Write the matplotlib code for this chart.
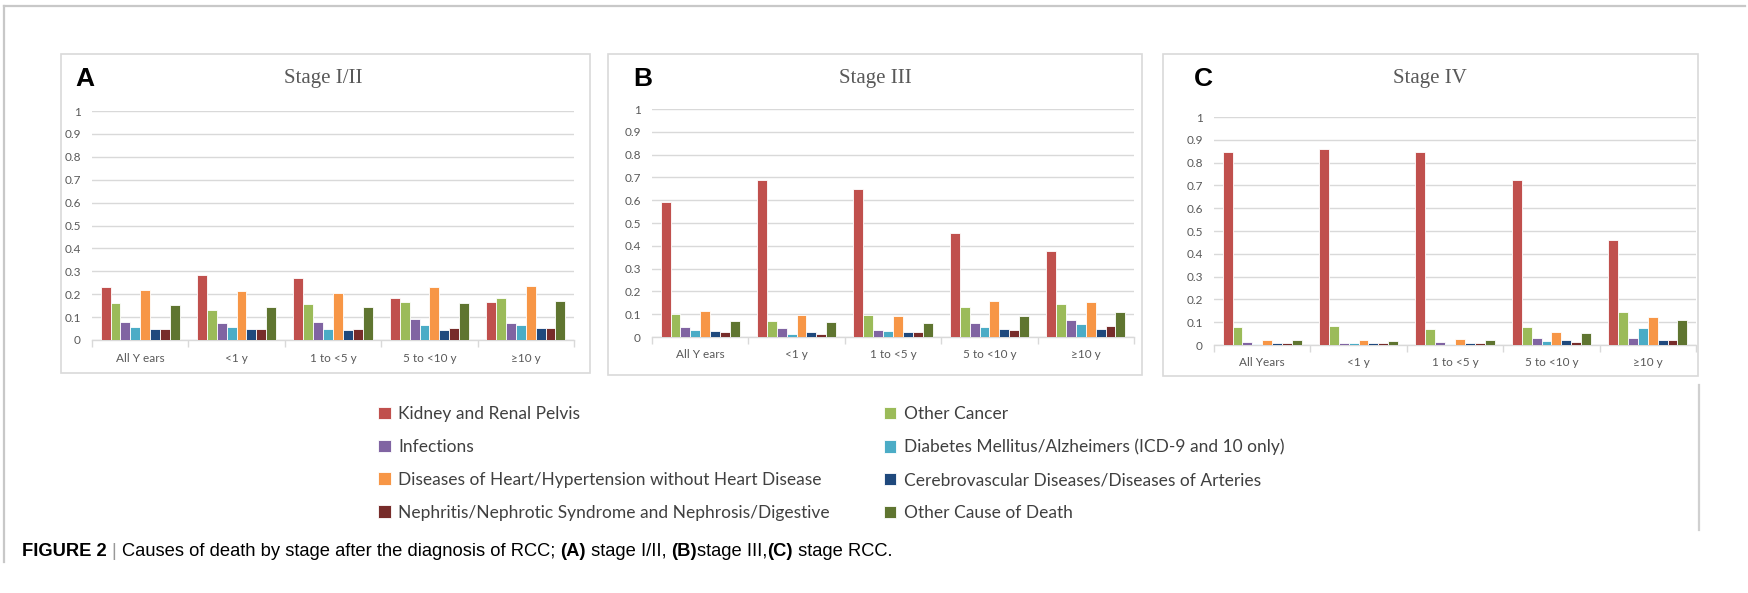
import matplotlib
matplotlib.use("Agg")
import matplotlib.pyplot as plt
import numpy as np
from matplotlib.patches import Rectangle
from matplotlib.lines import Line2D

# canvas size in pixels
W, H = 1748, 593

def fx(px):
    return px / W

def fy(py):
    return 1 - py / H

#Data
causes = ["Kidney and Renal Pelvis", "Other Cancer", "Infections",
          "Diabetes Mellitus/Alzheimers (ICD-9 and 10 only)",
          "Diseases of Heart/Hypertension without Heart Disease",
          "Cerebrovascular Diseases/Diseases of Arteries",
          "Nephritis/Nephrotic Syndrome and Nephrosis/Digestive",
          "Other Cause of Death"]
colors = ["#C0504D", "#9BBB59", "#8064A2", "#4BACC6",
          "#F79646", "#1F497D", "#772C2A", "#5F7530"]

cats_ab = ["All Y ears", "<1 y", "1 to <5 y", "5 to <10 y", "≥10 y"]
cats_c = ["All Years", "<1 y", "1 to <5 y", "5 to <10 y", "≥10 y"]

# one row per cause, one column per time category
stage_12 = [[0.232, 0.282, 0.270, 0.185, 0.165],
            [0.160, 0.132, 0.157, 0.167, 0.185],
            [0.080, 0.073, 0.077, 0.090, 0.075],
            [0.058, 0.055, 0.050, 0.067, 0.066],
            [0.220, 0.213, 0.207, 0.230, 0.236],
            [0.048, 0.047, 0.043, 0.043, 0.053],
            [0.050, 0.050, 0.046, 0.053, 0.053],
            [0.155, 0.142, 0.142, 0.163, 0.172]]

stage_3 = [[0.590, 0.688, 0.651, 0.454, 0.376],
           [0.103, 0.072, 0.097, 0.132, 0.146],
           [0.045, 0.040, 0.032, 0.060, 0.075],
           [0.030, 0.012, 0.025, 0.042, 0.055],
           [0.112, 0.097, 0.091, 0.159, 0.152],
           [0.025, 0.020, 0.022, 0.035, 0.035],
           [0.022, 0.012, 0.020, 0.032, 0.047],
           [0.072, 0.065, 0.062, 0.091, 0.111]]

stage_4 = [[0.846, 0.860, 0.846, 0.724, 0.462],
           [0.077, 0.085, 0.069, 0.080, 0.145],
           [0.012, 0.010, 0.014, 0.031, 0.032],
           [0.006, 0.008, 0.005, 0.016, 0.076],
           [0.024, 0.021, 0.027, 0.056, 0.125],
           [0.009, 0.009, 0.009, 0.022, 0.020],
           [0.009, 0.009, 0.007, 0.011, 0.021],
           [0.020, 0.018, 0.024, 0.052, 0.111]]

panels = [("A", "Stage I/II", stage_12, cats_ab, (92, 574, 111, 340), (61, 590, 54, 373), 323),
          ("B", "Stage III", stage_3, cats_ab, (652, 1134, 109, 337), (608, 1142, 54, 375), 875),
          ("C", "Stage IV", stage_4, cats_c, (1214, 1696, 117, 345), (1163, 1698, 54, 376), 1430)]

grey_txt = "#595959"
grid_col = "#d9d9d9"
tick_font = ["Lato", "DejaVu Sans"]

fig = plt.figure(figsize=(W / 100, H / 100), dpi=100)

# outer frame of the figure
fig.add_artist(Line2D([fx(4), fx(1745)], [fy(6), fy(6)], color="#c8c8c8", lw=1.6))
fig.add_artist(Line2D([fx(4), fx(4)], [fy(6), fy(562)], color="#c8c8c8", lw=1.6))
fig.add_artist(Line2D([fx(1699), fx(1699)], [fy(385), fy(530)], color="#d0d0d0", lw=1.6))

n = len(causes)
group_w = 0.82
bw = group_w / n
handles = []
for letter, title, data, cats, (x0, x1, yt, yb), (bx0, bx1, by0, by1), tx in panels:
    # panel box
    fig.add_artist(Rectangle((fx(bx0), fy(by1)), fx(bx1 - bx0), (by1 - by0) / H,
                             fill=False, edgecolor=grid_col, lw=1.2))
    ax = fig.add_axes([fx(x0), fy(yb), fx(x1 - x0), (yb - yt) / H])
    x = np.arange(len(cats))
    bars = []
    for i in range(n):
        b = ax.bar(x - group_w / 2 + bw * (i + 0.5), data[i], width=bw,
                   color=colors[i], edgecolor="white", linewidth=0.6, zorder=3)
        bars.append(b)
    if not handles:
        handles = bars
    ax.set_xlim(-0.5, len(cats) - 0.5)
    ax.set_ylim(0, 1)
    ax.set_yticks(np.arange(0, 1.01, 0.1))
    ax.set_yticklabels(["0", "0.1", "0.2", "0.3", "0.4", "0.5", "0.6", "0.7", "0.8", "0.9", "1"],
                       family=tick_font, fontsize=8.5, color=grey_txt)
    ax.yaxis.grid(True, color=grid_col, lw=1.0, zorder=0)
    ax.tick_params(axis="y", length=0, pad=8)
    # category ticks sit between groups, labels sit under groups
    ax.set_xticks(np.arange(-0.5, len(cats), 1.0))
    ax.set_xticklabels([])
    ax.set_xticks(x, minor=True)
    ax.set_xticklabels(cats, minor=True, family=tick_font, fontsize=8.5, color=grey_txt)
    ax.tick_params(axis="x", which="major", length=5, color=grid_col, width=1)
    ax.tick_params(axis="x", which="minor", length=0, pad=9)
    for s in ["left", "right", "top"]:
        ax.spines[s].set_visible(False)
    ax.spines["bottom"].set_color(grid_col)
    ax.spines["bottom"].set_linewidth(1.0)
    ax.set_facecolor("none")
    fig.text(fx(tx), fy(79), title, ha="center", va="center",
             family="Liberation Serif", fontsize=15, color=grey_txt)
    lx = {"A": 85, "B": 643, "C": 1203}[letter]
    fig.text(fx(lx), fy(79), letter, ha="center", va="center",
             family="Liberation Sans", fontsize=19, fontweight="bold", color="black")

# legend, two columns filled left column first
order = [0, 2, 4, 6, 1, 3, 5, 7]
leg = fig.legend([handles[i] for i in order], [causes[i] for i in order],
                 loc="upper left", bbox_to_anchor=(fx(378), fy(406)), ncol=2,
                 frameon=False, prop={"family": tick_font, "size": 12.5},
                 handlelength=0.72, handleheight=0.72, handletextpad=0.45,
                 columnspacing=3.1, labelspacing=0.97, borderpad=0, borderaxespad=0)
for t in leg.get_texts():
    t.set_color("#404040")

# caption, written piece by piece to mix bold and regular
cap_font = ["Liberation Sans", "DejaVu Sans"]
pieces = [("FIGURE 2 ", "bold", "black"), ("| ", "normal", "#999999"),
          ("Causes of death by stage after the diagnosis of RCC; ", "normal", "black"),
          ("(A)", "bold", "black"), (" stage I/II, ", "normal", "black"),
          ("(B)", "bold", "black"), ("stage III,", "normal", "black"),
          ("(C)", "bold", "black"), (" stage RCC.", "normal", "black")]
fig.canvas.draw()
renderer = fig.canvas.get_renderer()
cx = 22
for txt, wt, col in pieces:
    t = fig.text(fx(cx), fy(552), txt, ha="left", va="center", family=cap_font,
                 fontsize=13.2, fontweight=wt, color=col)
    bb = t.get_window_extent(renderer=renderer)
    cx += bb.width

plt.savefig("out.png", dpi=100, facecolor="white")
